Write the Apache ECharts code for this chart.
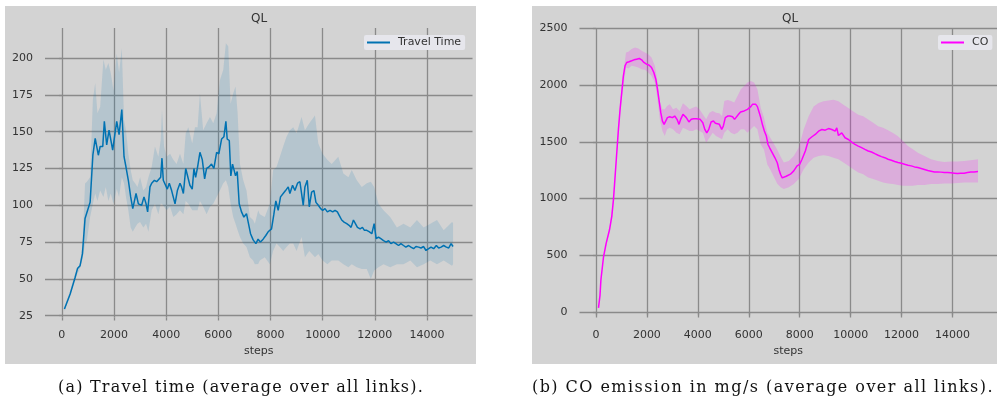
<!DOCTYPE html>
<html>
<head>
<meta charset="utf-8">
<script src="https://cdn.jsdelivr.net/npm/echarts@6/dist/echarts.min.js"></script>
<style>
  html, body { margin: 0; padding: 0; background: #fff; }
  #wrap { position: relative; width: 997px; height: 405px; }
  #chart { width: 997px; height: 405px; }
  .caption {
    position: absolute; top: 376px; width: 520px; margin-left: -260px;
    text-align: center; white-space: nowrap;
    font-family: 'DejaVu Serif', serif; font-size: 16px; line-height: 22px; color: #111;
  }
</style>
</head>
<body>
<div id="wrap">
  <div id="chart"></div>
  <div class="caption" style="left:241px; letter-spacing:1.2px">(a) Travel time (average over all links).</div>
  <div class="caption" style="left:763px; letter-spacing:1.45px">(b) CO emission in mg/s (average over all links).</div>
</div>
<script>
// tick labels
const stepTicks = [0, 2000, 4000, 6000, 8000, 10000, 12000, 14000];
const travelTicks = [25, 50, 75, 100, 125, 150, 175, 200];
const coTicks = [0, 500, 1000, 1500, 2000, 2500];

// travel time: mean [step, value]
const travelMean = [
  [100,29.5],[130,28.4],[320,39.8],[510,51],[600,57],[700,59],[790,67],[890,91],[1085,102],[1190,134],
  [1280,145.5],[1400,134],[1470,140],[1570,140],[1630,157],[1720,141],[1810,151],[1875,151.6],[1950,137.5],[2040,149],
  [2105,157],[2195,148],[2300,165],[2385,133],[2460,126],[2550,117],[2640,105.7],[2720,97.7],[2780,99],[2845,108],
  [2935,101],[3000,102],[3060,100],[3150,105.7],[3230,101],[3290,95.5],[3380,112.5],[3445,115],[3550,117],[3635,116],
  [3710,115],[3790,119],[3840,132],[3890,117],[3955,117],[4045,111],[4120,115],[4210,110],[4340,101],[4430,110],
  [4530,115],[4590,112.5],[4660,108],[4750,125],[4825,126],[4910,113.6],[5000,111],[5065,125],[5130,119],[5205,126],
  [5295,136],[5385,131],[5475,118],[5550,125],[5640,126],[5740,128],[5830,125],[5935,136],[6020,135],[6125,145],
  [6215,146.6],[6290,157],[6340,145],[6420,144],[6480,120],[6545,128],[6610,128],[6660,120],[6725,123],[6800,101],
  [6890,95.5],[6980,92],[7080,94.3],[7145,88.6],[7235,80.7],[7335,76.5],[7440,74],[7525,77],[7615,75],[7718,77],
  [7820,79.5],[7910,82],[8040,84],[8130,94],[8205,103],[8295,96.6],[8385,105.7],[8487,108],[8577,110],[8680,112.5],
  [8744,108],[8846,113.6],[8936,110],[9038,115],[9128,116],[9192,115],[9256,100],[9320,112.5],[9410,117],[9487,99],
  [9577,109],[9667,110],[9743,102],[9833,100],[9923,97.7],[10000,96.6],[10090,97.7],[10180,95.5],[10282,96.6],[10385,95.5],
  [10475,96.6],[10564,95.5],[10640,93],[10730,90],[10820,88.6],[10923,87.5],[11013,86.4],[11090,85],[11180,90],[11256,87.5],
  [11333,85],[11436,84],[11525,85],[11602,83],[11692,83],[11795,82],[11885,80.7],[11974,87.5],[12051,77.3],[12141,78.4],
  [12231,77.3],[12333,76],[12436,75],[12526,76],[12615,74],[12718,75],[12808,74],[12910,72.7],[13000,74],[13100,72.7],
  [13190,71.6],[13295,72.7],[13385,71.6],[13487,70.5],[13577,72],[13680,71.6],[13770,71],[13872,72],[13962,69.3],[14064,70.5],
  [14154,71.6],[14256,70.5],[14359,72.7],[14449,71],[14540,71.6],[14640,72.7],[14743,71.6],[14833,71],[14923,74],[15000,72]
];

// travel time: spread [step, lower, upper]
const travelBand = [
  [100,28,31],[300,38,41],[500,50,53],[700,57,61],[800,64,75],[890,73.9,114.8],[960,76,116],[1085,92,119],[1190,101,171.6],
  [1280,108,183],[1365,103,162.5],[1470,110,167],[1595,105.7,199],[1685,112.5,192],[1785,103,196.6],[1875,108,190],
  [1980,101,178],[2105,111,203],[2195,105.7,190],[2300,119,206.8],[2385,115,158],[2460,105.7,151],[2550,96.6,135],
  [2640,85,124],[2720,82,117],[2810,85,115],[2900,87.5,112.5],[3000,88.6,119],[3125,85,110],[3230,87.5,112.5],
  [3320,82,119],[3445,96.6,126],[3570,101,140],[3700,94,133],[3790,101,144],[3840,101,165],[3920,99,140],[4020,96.6,133],
  [4150,99,135],[4275,92,131],[4400,94,128],[4530,96.6,135],[4660,94,128],[4750,103,149],[4850,101,153],[5000,96.6,142],
  [5105,96.6,153],[5205,96.6,153],[5295,103,176],[5420,99,151],[5550,94,155.7],[5680,99,160],[5805,101,155.7],
  [5935,105.7,162.5],[6060,110,185],[6190,115,192],[6290,117,210],[6380,112.5,208],[6470,101,169],[6570,92,176],
  [6660,87.5,180.7],[6740,83,162.5],[6830,78.4,128],[6955,74,117],[7080,71.6,110],[7210,64.8,92],[7335,62.5,90],
  [7400,60,87.5],[7530,60.2,96.6],[7590,62.5,94],[7780,64.8,92],[7975,60,101],[8100,69,124],[8230,74,126],[8360,71.6,133],
  [8487,69,140],[8615,71.6,146.6],[8744,74,151],[8870,74,153],[9000,69,149],[9192,78.4,160],[9320,64.8,151],[9487,69,155.7],
  [9705,64.8,161],[9833,67,142],[10000,62.5,135],[10180,60,131],[10346,62.5,128],[10600,62.5,133],[10795,60,121.6],
  [10987,58,119],[11115,60,124],[11308,58,117],[11500,56.8,112.5],[11692,56.8,115],[11846,50,116],[11974,55.7,112.5],
  [12141,58,101],[12333,60,96.6],[12590,58,92],[12846,60,85],[13100,60,87.5],[13360,62.5,85],[13615,58,90],[13872,60,85],
  [14128,62.5,87.5],[14384,60,90],[14640,62.5,83],[14960,59,88.6],[15000,60,88]
];

// CO emission: mean [step, value]
const coMean = [
  [100,40],[160,150],[195,285],[300,491],[403,609],[533,726],[623,844],[688,991],[753,1197],[818,1403],
  [883,1609],[948,1785],[1013,1932],[1078,2079],[1143,2168],[1208,2197],[1300,2203],[1403,2212],[1494,2220],[1598,2226],
  [1702,2232],[1793,2220],[1883,2197],[1987,2182],[2091,2173],[2182,2153],[2273,2109],[2351,2050],[2416,1962],[2481,1859],
  [2546,1756],[2611,1682],[2676,1653],[2741,1653],[2806,1712],[2897,1720],[3001,1712],[3092,1726],[3183,1697],[3261,1653],
  [3326,1697],[3417,1741],[3482,1741],[3547,1712],[3650,1674],[3741,1697],[3832,1703],[3936,1703],[4014,1706],[4092,1697],
  [4196,1667],[4274,1609],[4352,1579],[4430,1609],[4521,1674],[4612,1682],[4690,1662],[4768,1662],[4846,1653],[4937,1609],
  [5001,1638],[5079,1712],[5170,1726],[5261,1726],[5365,1720],[5443,1697],[5521,1712],[5599,1741],[5677,1762],[5755,1762],
  [5820,1771],[5885,1785],[5950,1785],[6014,1794],[6079,1809],[6144,1829],[6209,1838],[6274,1829],[6339,1809],[6404,1762],
  [6469,1712],[6534,1653],[6612,1594],[6690,1550],[6755,1476],[6820,1447],[6924,1403],[7028,1359],[7119,1315],[7184,1256],
  [7249,1212],[7314,1182],[7379,1197],[7470,1197],[7548,1212],[7636,1215],[7766,1244],[7896,1288],[8000,1302],[8091,1346],
  [8221,1419],[8351,1520],[8481,1544],[8611,1564],[8740,1593],[8870,1608],[9000,1602],[9130,1616],[9260,1608],[9390,1593],
  [9455,1622],[9520,1555],[9650,1578],[9780,1535],[9910,1520],[10039,1497],[10169,1477],[10299,1462],[10429,1448],[10559,1433],
  [10689,1419],[10819,1410],[10949,1395],[11079,1381],[11209,1369],[11338,1360],[11468,1346],[11598,1337],[11728,1326],[11858,1317],
  [11988,1311],[12118,1302],[12248,1294],[12377,1288],[12507,1279],[12637,1273],[12767,1265],[12897,1256],[13027,1247],[13157,1241],
  [13287,1235],[13417,1235],[13547,1233],[13676,1230],[13806,1230],[13936,1227],[14066,1224],[14196,1221],[14326,1224],[14456,1224],
  [14586,1230],[14716,1235],[14846,1235],[15000,1238]
];

// CO emission: spread [step, lower, upper]
const coBand = [
  [100,30,50],[300,480,500],[533,710,740],[688,970,1010],[818,1370,1430],[948,1740,1830],[1013,1880,1990],[1100,2020,2150],
  [1182,2153,2285],[1273,2144,2291],[1403,2168,2315],[1533,2162,2329],[1663,2153,2320],[1793,2138,2300],[1922,2132,2285],
  [2052,2109,2270],[2182,2079,2241],[2312,2020,2168],[2403,1903,2050],[2507,1697,1859],[2611,1594,1785],[2702,1550,1785],
  [2793,1609,1815],[2897,1623,1829],[3027,1609,1785],[3157,1579,1800],[3286,1565,1771],[3416,1623,1838],[3546,1609,1815],
  [3676,1594,1785],[3806,1594,1800],[3936,1609,1809],[4066,1594,1785],[4196,1579,1741],[4326,1491,1697],[4456,1535,1756],
  [4585,1579,1771],[4715,1550,1756],[4845,1535,1750],[4949,1521,1726],[5040,1579,1859],[5170,1609,1868],[5300,1579,1859],
  [5430,1565,1844],[5559,1579,1903],[5689,1609,1962],[5819,1609,1991],[5949,1579,2020],[6079,1609,2035],[6209,1638,2020],
  [6339,1609,1962],[6469,1476,1800],[6599,1430,1710],[6729,1300,1580],[6859,1250,1530],[6989,1190,1480],[7119,1130,1430],
  [7248,1100,1370],[7376,1084,1317],[7571,1099,1331],[7766,1128,1375],[7961,1172,1448],[8156,1259,1608],[8351,1317,1724],
  [8546,1360,1811],[8740,1375,1840],[8935,1381,1855],[9130,1375,1863],[9325,1360,1869],[9520,1346,1855],[9715,1317,1826],
  [9910,1288,1797],[10104,1259,1767],[10299,1230,1738],[10494,1215,1724],[10689,1186,1695],[10884,1172,1666],[11079,1157,1637],
  [11273,1142,1622],[11468,1134,1602],[11663,1128,1578],[11858,1119,1549],[12053,1113,1506],[12248,1113,1462],[12442,1113,1433],
  [12637,1119,1404],[12897,1119,1375],[13157,1128,1346],[13417,1128,1331],[13676,1134,1323],[13936,1134,1326],[14196,1137,1326],
  [14456,1142,1331],[14716,1142,1337],[15000,1142,1346]
];

const SANS = "'DejaVu Sans', sans-serif";
const GRID = '#8a8a8a';
const PANEL = '#d3d3d3';
const TEXT = '#333';
const BLUE = '#0072b2';
const MAGENTA = '#ff00ff';

function bandRenderer(band, fill) {
  return function (params, api) {
    if (params.dataIndex !== 0) return null;
    const upper = band.map(d => api.coord([d[0], d[2]]));
    const lower = band.map(d => api.coord([d[0], d[1]])).reverse();
    return {
      type: 'polygon',
      shape: { points: upper.concat(lower) },
      style: { fill: fill }
    };
  };
}

const plain = v => String(v);

function stepAxis(gridIndex) {
  return {
    gridIndex: gridIndex,
    type: 'value',
    min: -645,
    max: 15745,
    axisLine: { show: false },
    axisTick: { show: true, length: 3, customValues: stepTicks, lineStyle: { color: GRID, width: 1.3 } },
    axisLabel: { customValues: stepTicks, formatter: plain, margin: 12, color: TEXT, fontSize: 11, fontFamily: SANS },
    splitLine: { show: true, lineStyle: { color: GRID, width: 1.3 } },
    name: 'steps',
    nameLocation: 'middle',
    nameGap: 28,
    nameTextStyle: { color: TEXT, fontSize: 11, fontFamily: SANS }
  };
}

function valueAxis(gridIndex, min, max, ticks) {
  return {
    gridIndex: gridIndex,
    type: 'value',
    min: min,
    max: max,
    axisLine: { show: false },
    axisTick: { show: true, length: 3, customValues: ticks, lineStyle: { color: GRID, width: 1.3 } },
    axisLabel: { customValues: ticks, formatter: plain, margin: 12, color: TEXT, fontSize: 11, fontFamily: SANS },
    splitLine: { show: true, lineStyle: { color: GRID, width: 1.3 } }
  };
}

function legend(name, left) {
  return {
    data: [name],
    left: left,
    top: 35,
    orient: 'horizontal',
    icon: 'rect',
    itemWidth: 23,
    itemHeight: 2,
    itemGap: 0,
    padding: [2, 4, 2, 3],
    backgroundColor: '#e6e6ec',
    borderRadius: 2,
    selectedMode: false,
    textStyle: { color: TEXT, fontSize: 11, fontFamily: SANS, padding: [0, 0, 0, 3] }
  };
}

const chart = echarts.init(document.getElementById('chart'), null, { renderer: 'canvas' });

chart.setOption({
  animation: false,
  backgroundColor: '#fff',
  graphic: [
    { type: 'rect', shape: { x: 5, y: 6, width: 471, height: 358 }, style: { fill: PANEL }, z: -10 },
    { type: 'rect', shape: { x: 532, y: 6, width: 465, height: 358 }, style: { fill: PANEL }, z: -10 },
    { type: 'text', x: 259, y: 18.5, style: { text: 'QL', align: 'center', verticalAlign: 'middle', fill: TEXT, font: '12px ' + SANS } },
    { type: 'text', x: 790, y: 18.5, style: { text: 'QL', align: 'center', verticalAlign: 'middle', fill: TEXT, font: '12px ' + SANS } }
  ],
  grid: [
    { left: 45, width: 427.5, top: 28, bottom: 87.5 },
    { left: 579.5, right: -3, top: 28, bottom: 87.5 }
  ],
  xAxis: [stepAxis(0), stepAxis(1)],
  yAxis: [
    valueAxis(0, 23.8, 220.4, travelTicks),
    valueAxis(1, -45, 2500, coTicks)
  ],
  legend: [legend('Travel Time', 364), legend('CO', 938)],
  series: [
    {
      type: 'custom',
      name: 'Travel Time band',
      xAxisIndex: 0, yAxisIndex: 0,
      data: travelBand,
      encode: { x: 0, y: [1, 2] },
      renderItem: bandRenderer(travelBand, 'rgba(0,114,178,0.14)'),
      silent: true,
      z: 1
    },
    {
      type: 'line',
      name: 'Travel Time',
      xAxisIndex: 0, yAxisIndex: 0,
      data: travelMean,
      showSymbol: false,
      color: BLUE,
      lineStyle: { color: BLUE, width: 1.5 },
      z: 3
    },
    {
      type: 'custom',
      name: 'CO band',
      xAxisIndex: 1, yAxisIndex: 1,
      data: coBand,
      encode: { x: 0, y: [1, 2] },
      renderItem: bandRenderer(coBand, 'rgba(255,0,255,0.18)'),
      silent: true,
      z: 1
    },
    {
      type: 'line',
      name: 'CO',
      xAxisIndex: 1, yAxisIndex: 1,
      data: coMean,
      showSymbol: false,
      color: MAGENTA,
      lineStyle: { color: MAGENTA, width: 1.5 },
      z: 3
    }
  ]
});
</script>
</body>
</html>
